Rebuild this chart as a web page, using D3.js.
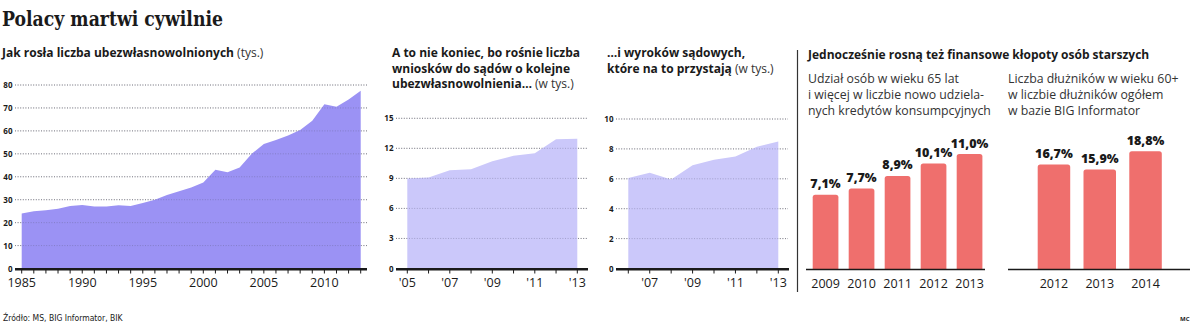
<!DOCTYPE html>
<html><head><meta charset="utf-8">
<script src="https://cdn.jsdelivr.net/npm/d3@7"></script>
<style>
body{margin:0;background:#fff;}
svg text{font-family:"Open Sans",sans-serif;fill:#1a1a1a;}
</style></head>
<body><svg id="c" width="1200" height="327"></svg>
<script>
// ---- data ----
const years1 = [1985,1986,1987,1988,1989,1990,1991,1992,1993,1994,1995,1996,1997,1998,1999,2000,2001,2002,2003,2004,2005,2006,2007,2008,2009,2010,2011,2012,2013];
const values1 = [24,25,25.4,26,27.2,27.7,27,27,27.6,27.2,28.6,30,32,33.7,35.3,37.5,43,42,44,50,54.3,56,58,60.4,64.4,71.6,70.5,73.7,77.5];
const ticks1 = [0,10,20,30,40,50,60,70,80];
const labelYears1 = [1985,1990,1995,2000,2005,2010];

const years2 = [2005,2006,2007,2008,2009,2010,2011,2012,2013];
const values2 = [9.0,9.1,9.8,9.9,10.7,11.25,11.5,12.9,12.95];
const ticks2 = [0,3,6,9,12,15];
const labelYears2 = [2005,2007,2009,2011,2013];

const years3 = [2006,2007,2008,2009,2010,2011,2012,2013];
const values3 = [6.05,6.4,5.95,6.9,7.27,7.5,8.15,8.5];
const ticks3 = [0,2,4,6,8,10];
const labelYears3 = [2007,2009,2011,2013];

const barYearsA = ["2009","2010","2011","2012","2013"];
const barValuesA = [7.1,7.7,8.9,10.1,11.0];
const barYearsB = ["2012","2013","2014"];
const barValuesB = [16.7,15.9,18.8];

// ---- drawing ----
const svg = d3.select("#c");
const dark = "#1a1a1a";
const fmtPct = v => d3.format(".1f")(v).replace(".", ",") + "%";
const fmtShort = y => "'" + String(y).slice(2);

svg.append("text").attr("x",2).attr("y",26)
  .style("font-family","'DejaVu Serif',serif").style("font-weight","bold").style("font-size","19.5px")
  .attr("textLength",221).attr("lengthAdjust","spacingAndGlyphs")
  .text("Polacy martwi cywilnie");

function titleLines(x, y0, lines, lh){
  lines.forEach((ln,i)=>{
    const t = svg.append("text").attr("x",x).attr("y",y0+i*lh).style("font-size","12px");
    t.append("tspan").style("font-weight","bold").text(ln[0]);
    if(ln[1]) t.append("tspan").style("font-weight","normal").style("fill","#333").text(ln[1]);
  });
}
titleLines(2,57,[["Jak rosła liczba ubezwłasnowolnionych"," (tys.)"]],16);
titleLines(392,57,[["A to nie koniec, bo rośnie liczba"],["wniosków do sądów o kolejne"],["ubezwłasnowolnienia…"," (w tys.)"]],15.5);
titleLines(607,57,[["…i wyroków sądowych,"],["które na to przystają"," (w tys.)"]],15.5);

function areaChart(cfg){
  const {years, values, ticks, labelYears, xr, yTop, yDomMax, gridX, labelX, fill, fmt, axisX} = cfg;
  const base = 268.5;
  const x = d3.scaleLinear().domain([years[0], years[years.length-1]]).range(xr);
  const y = d3.scaleLinear().domain([0,yDomMax]).range([base,yTop]);
  const g = svg.append("g");
  g.selectAll(".gl").data(ticks.filter(d=>d>0)).join("line")
    .attr("x1",gridX[0]).attr("x2",gridX[1]).attr("y1",d=>y(d)).attr("y2",d=>y(d))
    .attr("stroke","#8a8a8a").attr("stroke-width",0.9).attr("stroke-dasharray","1,1.6");
  const data = years.map((yr,i)=>({yr, v: values[i]}));
  g.append("path").datum(data)
    .attr("d", d3.area().x(d=>x(d.yr)).y0(y(0)).y1(d=>y(d.v)))
    .attr("fill", fill);
  g.selectAll(".gl2").data(ticks.filter(d=>d>0)).join("line")
    .attr("x1",gridX[0]).attr("x2",gridX[1]).attr("y1",d=>y(d)).attr("y2",d=>y(d))
    .attr("stroke","#5a5a7a").attr("stroke-opacity",0.4).attr("stroke-width",0.9).attr("stroke-dasharray","1,1.6");
  g.selectAll(".yl").data(ticks).join("text")
    .attr("x",labelX).attr("y",d=>y(d)+3).attr("text-anchor","end")
    .style("font-size","8px").style("font-weight","bold").text(d=>d);
  g.append("line").attr("x1",axisX[0]).attr("x2",axisX[1]).attr("y1",base+0.8).attr("y2",base+0.8)
    .attr("stroke",dark).attr("stroke-width",2.4);
  g.selectAll(".tk").data(years).join("line")
    .attr("x1",d=>x(d)).attr("x2",d=>x(d)).attr("y1",base+1).attr("y2",base+5)
    .attr("stroke",dark).attr("stroke-width",1);
  g.selectAll(".xl").data(labelYears).join("text")
    .attr("x",d=>x(d)).attr("y",287).attr("text-anchor","middle")
    .style("font-size","12.5px").style("font-weight","500").text(fmt);
}

areaChart({years:years1, values:values1, ticks:ticks1, labelYears:labelYears1,
  xr:[21.7,360.7], yTop:85, yDomMax:80, gridX:[15,368], labelX:12.5, fill:"#9b92f4",
  fmt:d=>d, axisX:[15,367]});
areaChart({years:years2, values:values2, ticks:ticks2, labelYears:labelYears2,
  xr:[407.3,577.3], yTop:118.3, yDomMax:15, gridX:[396,588], labelX:393.5, fill:"#cbc8fa",
  fmt:fmtShort, axisX:[396,588]});
areaChart({years:years3, values:values3, ticks:ticks3, labelYears:labelYears3,
  xr:[628.3,778.3], yTop:119, yDomMax:10, gridX:[616,788], labelX:613.5, fill:"#cbc8fa",
  fmt:fmtShort, axisX:[616,789]});

svg.append("line").attr("x1",797.5).attr("x2",797.5).attr("y1",50).attr("y2",292)
  .attr("stroke","#333").attr("stroke-width",1.2);

svg.append("text").attr("x",808).attr("y",59).style("font-size","12px").style("font-weight","bold")
  .text("Jednocześnie rosną też finansowe kłopoty osób starszych");

function plainLines(x,y0,lines,lh){
  lines.forEach((ln,i)=>svg.append("text").attr("x",x).attr("y",y0+i*lh)
    .style("font-size","12.3px").style("fill","#333").text(ln));
}
plainLines(808,83,["Udział osób w wieku 65 lat","i więcej w liczbie nowo udziela-","nych kredytów konsumpcyjnych"],16);
plainLines(1008,83,["Liczba dłużników w wieku 60+","w liczbie dłużników ogółem","w bazie BIG Informator"],16);

function barChart(cfg){
  const {cats, vals, range, pad, pxPerUnit, axisX} = cfg;
  const base = 269;
  const x = d3.scaleBand().domain(cats).range(range).paddingInner(pad).paddingOuter(0);
  const y = d3.scaleLinear().domain([0,20]).range([base, base - 20*pxPerUnit]);
  const g = svg.append("g");
  g.selectAll("path.bar").data(cats).join("path")
    .attr("d",(c,i)=>{
      const x0=x(c), w=x.bandwidth(), t=y(vals[i]), r=2.5;
      return `M${x0},${base}V${t+r}Q${x0},${t} ${x0+r},${t}H${x0+w-r}Q${x0+w},${t} ${x0+w},${t+r}V${base}Z`;
    })
    .attr("fill","#ef6f6d");
  g.append("line").attr("x1",axisX[0]).attr("x2",axisX[1]).attr("y1",base+0.5).attr("y2",base+0.5)
    .attr("stroke",dark).attr("stroke-width",1.6);
  g.selectAll(".vl").data(cats).join("text")
    .attr("x",c=>x(c)+x.bandwidth()/2).attr("y",(c,i)=>y(vals[i])-6.5).attr("text-anchor","middle")
    .style("font-size","12.5px").style("font-weight","800").text((c,i)=>fmtPct(vals[i]));
  g.selectAll(".cl").data(cats).join("text")
    .attr("x",c=>x(c)+x.bandwidth()/2).attr("y",288).attr("text-anchor","middle")
    .style("font-size","12.5px").style("font-weight","500").text(c=>c);
}
barChart({cats:barYearsA, vals:barValuesA, range:[812.7,982.4], pad:0.286, pxPerUnit:10.45, axisX:[806,985]});
barChart({cats:barYearsB, vals:barValuesB, range:[1037.7,1161.8], pad:0.29, pxPerUnit:6.26, axisX:[1008,1190]});

svg.append("text").attr("x",3).attr("y",321).style("font-size","8.5px")
  .style("font-family","'Liberation Sans Narrow','DejaVu Sans Condensed',sans-serif")
  .text("Źródło: MS, BIG Informator, BIK");
svg.append("text").attr("x",1180).attr("y",321).style("font-size","6px").style("font-weight","bold").text("MC");
</script></body></html>
